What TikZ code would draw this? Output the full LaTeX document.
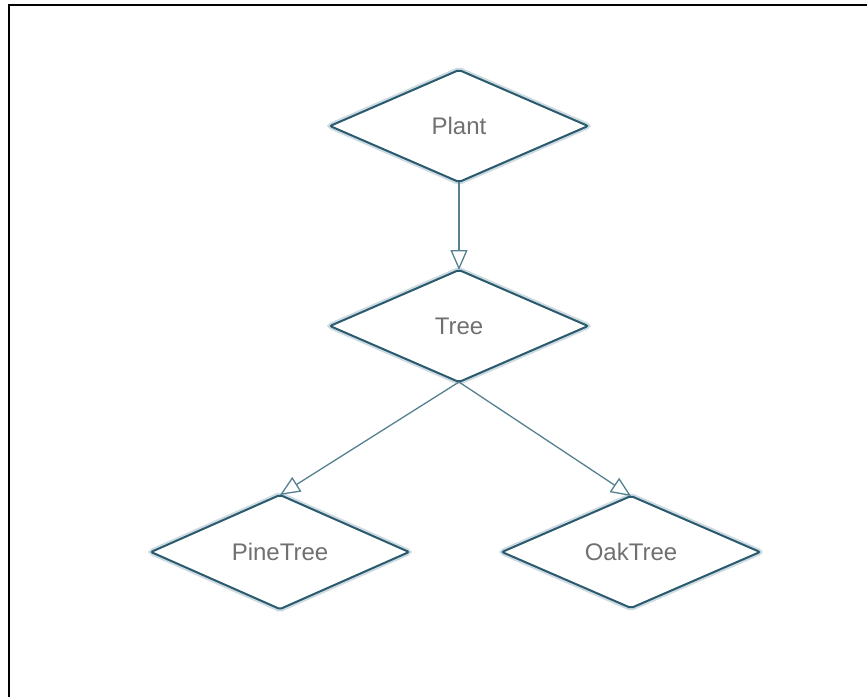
\documentclass[tikz,border=0pt]{standalone}
\usepackage{fontspec}
\setmainfont{Liberation Sans}
\usetikzlibrary{shapes.geometric,arrows.meta}
\definecolor{dborder}{HTML}{2A5A6E}
\definecolor{glow}{HTML}{6F96A8}
\definecolor{conn}{HTML}{55808F}
\definecolor{txt}{HTML}{707070}
\tikzset{
  cls/.style={diamond, draw=dborder, line width=2pt, fill=white,
    minimum width=258pt, minimum height=112pt, inner sep=0pt, outer sep=0pt,
    rounded corners=2pt,
    preaction={draw=glow, line width=6pt, draw opacity=0.35},
    font=\fontsize{24pt}{28pt}\selectfont, text=txt},
  inh/.style={draw=conn, line width=1.3pt,
    -{Triangle[open, length=20pt, width=17pt, fill=white, line width=1.3pt]}}
}
\begin{document}
\begin{tikzpicture}[x=1pt,y=-1pt]
\useasboundingbox (0,0) rectangle (867,696);
\draw[line width=2.5pt, line cap=rect] (9,696) -- (9,5) -- (867,5);
\node[cls] (plant) at (459,126) {Plant};
\node[cls] (tree) at (459,326) {Tree};
\node[cls] (pine) at (280,552) {PineTree};
\node[cls] (oak) at (631,552) {OakTree};
\draw[inh] (plant.south) -- (tree.north);
\draw[inh] (tree.south) -- (pine.north);
\draw[inh] (tree.south) -- (oak.north);
\end{tikzpicture}
\end{document}
